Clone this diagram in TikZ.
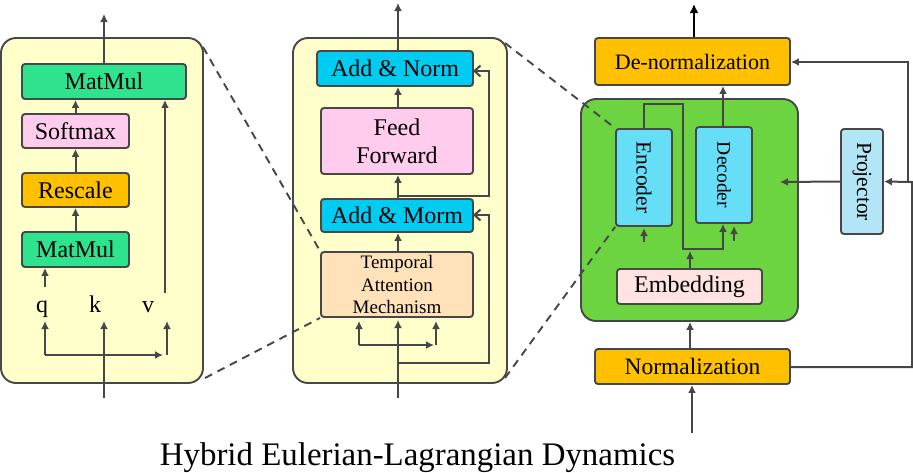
\documentclass[tikz,border=0pt]{standalone}
\usepackage{fontspec}
\setmainfont{Liberation Serif}
\usetikzlibrary{arrows.meta}
\definecolor{lc}{HTML}{474747}
\definecolor{panel}{HTML}{FFFFCC}
\definecolor{mmgreen}{HTML}{2EE28E}
\definecolor{pinkbox}{HTML}{FFCCEE}
\definecolor{orangebox}{HTML}{FFC000}
\definecolor{cyanbox}{HTML}{00CCF2}
\definecolor{peach}{HTML}{FFE2BA}
\definecolor{greenbox}{HTML}{6CD440}
\definecolor{encblue}{HTML}{66DEF8}
\definecolor{embpink}{HTML}{FFE2E2}
\definecolor{projblue}{HTML}{B2E6F6}
\tikzset{
  blk/.style={draw=lc, line width=1.9pt, rounded corners=3pt, inner sep=0pt, align=center},
  pnl/.style={draw=lc, line width=1.9pt, rounded corners=15pt, inner sep=0pt},
  arr/.style={draw=lc, line width=2pt, -{Latex[length=8pt,width=8pt]}},
  oarr/.style={draw=lc, line width=2pt, -{Straight Barb[length=6pt,width=11pt]}},
  dsh/.style={draw=lc, line width=1.9pt, dash pattern=on 8pt off 6pt},
}
\begin{document}
\begin{tikzpicture}[x=1pt,y=-1pt]
\useasboundingbox (0,0) rectangle (913,472);
% ---------- left panel ----------
\node[pnl, fill=panel, minimum width=202pt, minimum height=345pt] (lp) at (102,210.5) {};
\node[blk, fill=mmgreen, minimum width=164pt, minimum height=35pt, font=\fontsize{24}{28}\selectfont] (mm2) at (104,81.5) {MatMul};
\node[blk, fill=pinkbox, minimum width=107pt, minimum height=34pt, font=\fontsize{24}{28}\selectfont] (sm) at (75.5,131) {Softmax};
\node[blk, fill=orangebox, minimum width=107pt, minimum height=34pt, font=\fontsize{24}{28}\selectfont] (rs) at (75.5,190) {Rescale};
\node[blk, fill=mmgreen, minimum width=107pt, minimum height=35pt, font=\fontsize{24}{28}\selectfont] (mm1) at (75.5,249.5) {MatMul};
\node[anchor=base, inner sep=0pt, font=\fontsize{24}{28}\selectfont] (q) at (42,312) {q};
\node[anchor=base, inner sep=0pt, font=\fontsize{24}{28}\selectfont] (k) at (95,312) {k};
\node[anchor=base, inner sep=0pt, font=\fontsize{24}{28}\selectfont] (v) at (148,312) {v};
\coordinate (lout) at (104,14);
\coordinate (lin) at (104,398);
\coordinate (qa) at (45,287);
\coordinate (va) at (165,293);
\coordinate (lsA) at (45,355);
\coordinate (lsB) at (163,355);
\coordinate (lsC) at (167,355);
\coordinate (lsD) at (167,321);
\coordinate (lsE) at (45,321);
\draw[arr] (mm2.north) -- (lout);
\draw[arr] (sm.north) -- (sm.north |- mm2.south);
\draw[arr] (rs.north) -- (sm.south);
\draw[arr] (mm1.north) -- (rs.south);
\draw[arr] (qa) -- (qa |- mm1.south);
\draw[arr] (va) -- (va |- mm2.south);
\draw[arr] (lin) -- (104,321);
\draw[arr] (lsA) -- (lsE);
\draw[arr] (lsA) -- (lsB);
\draw[arr] (lsC) -- (lsD);
% ---------- middle panel ----------
\node[pnl, fill=panel, minimum width=214pt, minimum height=345pt] (mp) at (400,210.5) {};
\node[blk, fill=cyanbox, minimum width=156pt, minimum height=35pt, font=\fontsize{24}{28}\selectfont] (an2) at (395,68.5) {Add \& Norm};
\node[blk, fill=pinkbox, minimum width=152pt, minimum height=66pt, font=\fontsize{24}{28}\selectfont] (ff) at (397,141) {Feed\\Forward};
\node[blk, fill=cyanbox, minimum width=152pt, minimum height=33pt, font=\fontsize{24}{28}\selectfont] (an1) at (397,215.5) {Add \& Morm};
\node[blk, fill=peach, minimum width=152pt, minimum height=65pt, font=\fontsize{19}{22.5}\selectfont] (tam) at (397,284.5) {Temporal\\Attention\\Mechanism};
\coordinate (mout) at (398,3);
\coordinate (min) at (398,398);
\coordinate (r1a) at (398,196);
\coordinate (r1b) at (489,196);
\coordinate (r1c) at (489,71);
\coordinate (r1d) at (473,71);
\coordinate (r2a) at (398,363);
\coordinate (r2b) at (489,363);
\coordinate (r2c) at (489,215);
\coordinate (r2d) at (473,215);
\coordinate (msA) at (359,345);
\coordinate (msB) at (434,345);
\coordinate (msC) at (436,345);
\draw[arr] (an2.north -| mout) -- (mout);
\draw[arr] (ff.north -| mout) -- (an2.south -| mout);
\draw[arr] (an1.north -| mout) -- (ff.south -| mout);
\draw[arr] (tam.north -| mout) -- (an1.south -| mout);
\draw[arr] (min) -- (398,320);
\draw[oarr] (r1a) -- (r1b) -- (r1c) -- (r1d);
\draw[oarr] (r2a) -- (r2b) -- (r2c) -- (r2d);
\draw[arr] (msA) -- (359,321);
\draw[arr] (msA) -- (msB);
\draw[arr] (msC) -- (436,321);
% ---------- right part ----------
\node[blk, fill=orangebox, minimum width=195pt, minimum height=47pt, font=\fontsize{22}{26}\selectfont] (dn) at (692.5,61.5) {De-normalization};
\node[pnl, fill=greenbox, minimum width=217pt, minimum height=222pt] (gb) at (689.5,210) {};
\node[blk, fill=encblue, minimum width=56pt, minimum height=97pt] (enc) at (644,177.5) {};
\node[rotate=-90, inner sep=0pt, font=\fontsize{21.5}{24}\selectfont] (enct) at (enc.center) {Encoder};
\node[blk, fill=encblue, minimum width=56pt, minimum height=96pt] (dec) at (724,175) {};
\node[rotate=-90, inner sep=0pt, font=\fontsize{19.5}{22}\selectfont] (dect) at (dec.center) {Decoder};
\node[blk, fill=embpink, minimum width=145pt, minimum height=35pt, font=\fontsize{24}{28}\selectfont] (emb) at (689.5,286.5) {Embedding};
\node[blk, fill=orangebox, minimum width=195pt, minimum height=35pt, font=\fontsize{23.5}{28}\selectfont] (nm) at (692.5,366.5) {Normalization};
\node[blk, fill=projblue, minimum width=42pt, minimum height=105pt] (pj) at (862,181.5) {};
\node[rotate=-90, inner sep=0pt, font=\fontsize{21.5}{24}\selectfont] (pjt) at (pj.center) {Projector};
\coordinate (rin) at (692,433);
\coordinate (rout) at (694,4);
\coordinate (e1) at (644,104);
\coordinate (e2) at (683,104);
\coordinate (e3) at (683,249);
\coordinate (e4) at (723,249);
\coordinate (gin) at (780,182);
\coordinate (n1) at (912,367);
\coordinate (n2) at (912,182);
\coordinate (p1) at (908,182);
\coordinate (p2) at (908,62);
\draw[arr] (rin) -- (nm.south -| rin);
\draw[arr] (nm.north -| 690,0) -- (gb.south -| 690,0);
\draw[arr] (emb.north -| 690,0) -- (690,251);
\draw[arr] (e1 |- enc.north) -- (e1) -- (e2) -- (e3) -- (e4) -- (e4 |- dec.south);
\draw[arr] (734,241) -- (734,226);
\draw[arr] (644,242) -- (644,228);
\draw[arr] (dec.north -| e4) -- (dn.south -| e4);
\draw[arr] (pj.west) -- (gin);
\draw[arr] (nm.east |- n1) -- (n1) -- (n2) -- (pj.east);
\draw[arr] (p1) -- (p2) -- (dn.east |- p2);
\draw[line width=2.2pt, black, -{Latex[length=9pt,width=9pt]}] (dn.north -| rout) -- (rout);
% ---------- dashed zoom lines ----------
\draw[dsh] (203,47) -- (tam.north west);
\draw[dsh] (205,378) -- (tam.south west);
\draw[dsh] (505,43) -- (enc.north west);
\draw[dsh] (505,378) -- (enc.south west);
% ---------- title ----------
\node[anchor=base, inner sep=0pt, font=\fontsize{32.9}{36}\selectfont] (title) at (417.5,465) {Hybrid Eulerian-Lagrangian Dynamics};
\end{tikzpicture}
\end{document}
